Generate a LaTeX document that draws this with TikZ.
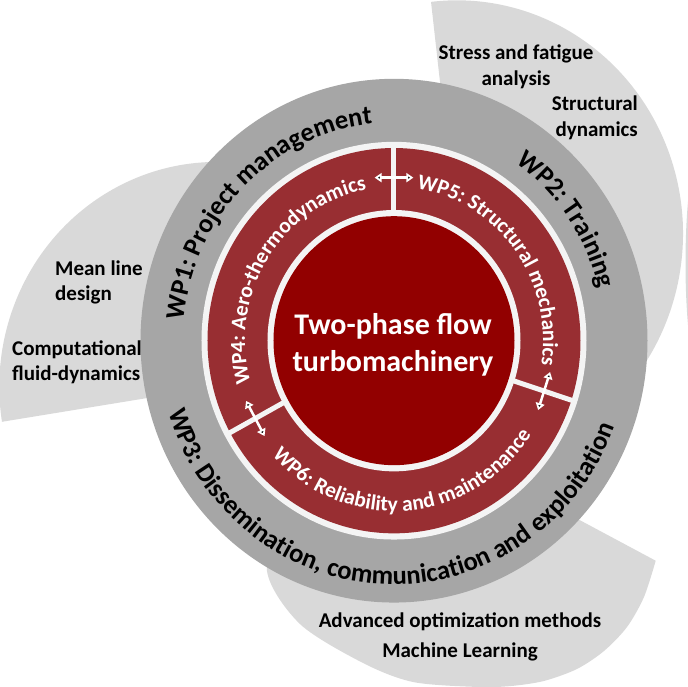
\documentclass[tikz,border=0pt]{standalone}
\usepackage{fontspec}
\setmainfont{Carlito}
\usetikzlibrary{arrows.meta,decorations.text}

\definecolor{ringgray}{HTML}{A6A6A6}
\definecolor{fieldgray}{HTML}{D9D9D9}
\definecolor{wpred}{HTML}{982E32}
\definecolor{corered}{HTML}{920000}
\definecolor{gapwhite}{HTML}{F4F4F4}

\newcommand\outerfont{\fontsize{26.5}{31}\selectfont\bfseries}
\newcommand\innerfont{\fontsize{21.5}{25}\selectfont\bfseries}

\begin{document}
\begin{tikzpicture}[x=1pt, y=1.033pt,
  field/.style={fill=fieldgray},
  note/.style={font=\fontsize{21}{25.5}\selectfont\bfseries, inner sep=0pt},
  outerlabel/.style={decorate, decoration={text along path, text align=center,
                     text={|\outerfont|#1}}},
  innerlabel/.style={decorate, decoration={text along path, text align=center,
                     text color=white, text={|\innerfont|#1}}},
  divider/.style={draw=gapwhite, line width=5pt},
  link/.style={{Triangle[length=7pt,width=9pt]}-{Triangle[length=7pt,width=9pt]},
               draw=white, line width=2.5pt}]
  \useasboundingbox (-394,-335.2) rectangle (294,329.8);

  % research fields behind the ring
  \fill[field] (63,103.5) -- ++(-60:226) arc[start angle=-60, end angle=96.6, radius=226] -- cycle;
  \fill[field] (-177.2,-44.5) -- ++(30:217.5) arc[start angle=30, end angle=189, radius=217.5] -- cycle;
  \fill[field] (140,-150) -- plot[smooth] coordinates {(261.7,-213) (250,-248.1) (233,-277.2)
    (210,-300.4) (183,-317.8) (150,-329.4) (117,-334.3) (83,-335.2) (19,-330.4) (-31,-312)
    (-94,-274.3) (-127,-223) (-110,-160)} -- cycle;
  \fill[field] (296,152) .. controls (290,110) and (290,40) .. (296,-2) -- cycle;

  % rings
  \fill[ringgray] (0,0) circle[radius=253.5];
  \fill[gapwhite] (0,0) circle[radius=192.5];
  \fill[wpred] (0,0) circle[radius=186.5];
  \fill[gapwhite] (0,0) circle[radius=126.5];
  \fill[corered] (0,0) circle[radius=120.5];
  \foreach \a in {90,208.5,-18}
    \draw[divider] (\a:121) -- (\a:192);

  \node[font=\fontsize{30}{37}\selectfont\bfseries, text=white, align=center] (core) at (-1,-4)
    {Two-phase flow\\turbomachinery};

  % work packages
  \path[outerlabel={WP1: Project management}] (185:211) arc[start angle=185, end angle=85, radius=211];
  \path[outerlabel={WP2: Training}] (70:211) arc[start angle=70, end angle=-1, radius=211];
  \path[outerlabel={WP3: Dissemination, communication and exploitation}]
    (176:236) arc[start angle=176, end angle=360.4, radius=236];
  \path[innerlabel={WP4: Aero-thermodynamics}] (208:149) arc[start angle=208, end angle=88, radius=149];
  \path[innerlabel={WP5: Structural mechanics}] (88.2:149) arc[start angle=88.2, end angle=-15.8, radius=149];
  \path[innerlabel={WP6: Reliability and maintenance}]
    (212.4:165) arc[start angle=212.4, end angle=336.4, radius=165];

  \coordinate (wp4n) at (97:159);
  \coordinate (wp5n) at (83:159);
  \coordinate (wp4s) at (201.5:159);
  \coordinate (wp6w) at (215.5:159);
  \coordinate (wp5s) at (-11:159);
  \coordinate (wp6e) at (-25:159);
  \draw[link] (wp4n) -- (wp5n);
  \draw[link] (wp4s) -- (wp6w);
  \draw[link] (wp5s) -- (wp6e);

  \node[note, align=center] (stress) at (122,265.4) {Stress and fatigue\\analysis};
  \node[note, align=right, anchor=east] (dyn) at (244,215.6) {Structural\\dynamics};
  \node[note, align=left, anchor=west] (mean) at (-339,56.3) {Mean line\\design};
  \node[note, align=left, anchor=west] (cfd) at (-382,-21.1) {Computational\\fluid-dynamics};
  \node[note, align=center] (opt) at (66,-286.8) {Advanced optimization methods\\[4pt]Machine Learning};
\end{tikzpicture}
\end{document}
